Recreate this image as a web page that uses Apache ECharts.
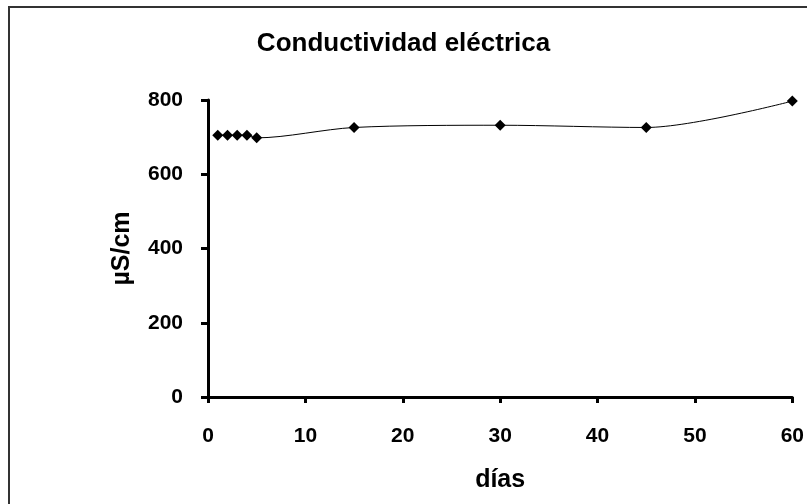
<!DOCTYPE html>
<html>
<head>
<meta charset="utf-8">
<script src="https://cdn.jsdelivr.net/npm/echarts@6/dist/echarts.min.js"></script>
<style>
	html, body { margin: 0; padding: 0; background: #fff; }
	#frame { position: absolute; left: 8px; top: 6px; width: 810px; height: 510px; border-left: 2px solid #333; border-top: 2px solid #333; }
	#chart { position: absolute; left: 0; top: 0; width: 807px; height: 504px; }
</style>
</head>
<body>
<div id="frame"></div>
<div id="chart"></div>
<script>
	//数据
	var dias = [1, 2, 3, 4, 5, 15, 30, 45, 60];
	var conductividad = [705, 705, 705, 705, 698, 726, 732, 726, 797];
	var yTicks = [0, 200, 400, 600, 800];

	var puntos = [];
	for (var a = 0; a < dias.length; a++) {
		puntos.push([dias[a], conductividad[a]]);
	}

	var fontFam = 'Liberation Sans, Arial, sans-serif';
	var myChart = echarts.init(document.getElementById('chart'));
	var option = {
		animation: false,
		title: {
			text: 'Conductividad eléctrica',
			left: 'center',
			top: 26,
			textStyle: { fontFamily: fontFam, fontSize: 26, fontWeight: 'bold', color: '#000' }
		},
		grid: { left: 208, right: 13, top: 100, bottom: 107 },
		xAxis: {
			type: 'value',
			min: 0, max: 60, interval: 10,
			name: 'días',
			nameLocation: 'middle',
			nameGap: 71,
			nameTextStyle: { fontFamily: fontFam, fontSize: 25, fontWeight: 'bold', color: '#000' },
			axisLine: { show: true, lineStyle: { color: '#000', width: 3 } },
			axisTick: { show: true, inside: false, length: 6, lineStyle: { color: '#000', width: 3 } },
			axisLabel: { fontFamily: fontFam, fontSize: 21, fontWeight: 'bold', color: '#000', margin: 29 },
			splitLine: { show: false }
		},
		yAxis: {
			type: 'value',
			min: yTicks[0], max: yTicks[yTicks.length - 1], interval: 200,
			name: 'µS/cm',
			nameLocation: 'middle',
			nameGap: 73,
			nameRotate: 90,
			nameTextStyle: { fontFamily: fontFam, fontSize: 25, fontWeight: 'bold', color: '#000' },
			axisLine: { show: true, lineStyle: { color: '#000', width: 3 } },
			axisTick: { show: true, inside: false, length: 7, lineStyle: { color: '#000', width: 3 } },
			axisLabel: { fontFamily: fontFam, fontSize: 21, fontWeight: 'bold', color: '#000', margin: 25 },
			splitLine: { show: false }
		},
		series: [{
			name: 'Conductividad',
			type: 'line',
			data: puntos,
			smooth: 0.3,
			symbol: 'diamond',
			symbolSize: 11,
			itemStyle: { color: '#000' },
			lineStyle: { color: '#000', width: 1 }
		}]
	};
	myChart.setOption(option);
</script>
</body>
</html>
